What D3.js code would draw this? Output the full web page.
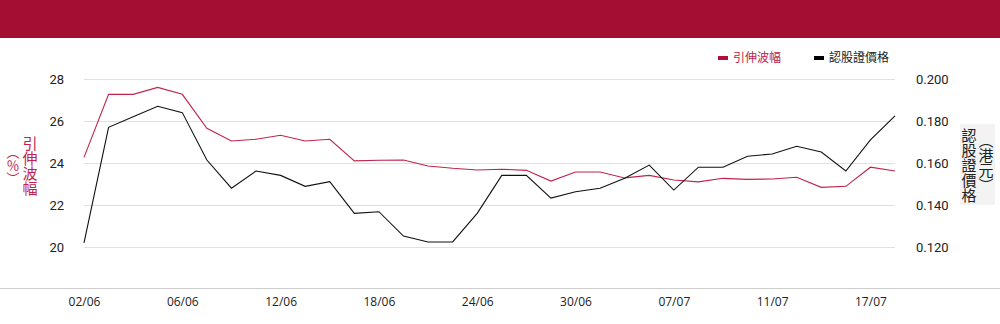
<!DOCTYPE html>
<html><head><meta charset="utf-8">
<script src="https://cdn.jsdelivr.net/npm/d3@7"></script>
<style>
html,body{margin:0;padding:0;background:#fff;}
svg{display:block;}
.vt{writing-mode:vertical-rl;}
</style></head>
<body>
<svg id="chart" width="1000" height="324"></svg>
<script>
const dates = ["02/06","03/06","04/06","05/06","06/06","09/06","10/06","11/06","12/06","13/06","16/06","17/06","18/06","19/06","20/06","23/06","24/06","25/06","26/06","27/06","30/06","02/07","03/07","04/07","07/07","08/07","09/07","10/07","11/07","14/07","15/07","16/07","17/07","18/07"];
const impliedVol = [24.27,27.27,27.27,27.6,27.27,25.65,25.05,25.13,25.32,25.05,25.13,24.1,24.13,24.14,23.86,23.75,23.67,23.7,23.65,23.14,23.57,23.57,23.29,23.41,23.19,23.1,23.27,23.22,23.24,23.32,22.84,22.89,23.8,23.62];
const warrantPrice = [0.122,0.177,0.182,0.187,0.184,0.1614,0.148,0.1562,0.1541,0.1489,0.1511,0.136,0.1368,0.1252,0.1224,0.1224,0.136,0.1541,0.1541,0.1433,0.1463,0.148,0.1527,0.159,0.1471,0.158,0.158,0.1632,0.1643,0.168,0.1652,0.1562,0.171,0.1824];
const leftTicks = [20,22,24,26,28];
const rightTicks = [0.12,0.14,0.16,0.18,0.2];
const xTickLabels = ["02/06","06/06","12/06","18/06","24/06","30/06","07/07","11/07","17/07"];
const seriesNames = ["引伸波幅","認股證價格"];
const leftTitle = "引伸波幅";
const leftUnit = "（％）";
const rightTitle = "認股證價格";
const rightUnit = "（港元）";

const RED = "#c0234b", BLACK = "#111";
const svg = d3.select("#chart");

// header bar
svg.append("rect").attr("x",0).attr("y",0).attr("width",1000).attr("height",38).attr("fill","#a50e33");
// bottom border
svg.append("line").attr("x1",0).attr("x2",1000).attr("y1",288.5).attr("y2",288.5).attr("stroke","#cfcfcf");

const x = d3.scalePoint().domain(dates).range([84,895]);
const yL = d3.scaleLinear().domain([20,28]).range([247,79]);
const yR = d3.scaleLinear().domain([0.12,0.2]).range([247,79]);

// gridlines
svg.append("g").selectAll("line").data(leftTicks).join("line")
  .attr("x1",84).attr("x2",895)
  .attr("y1",d=>Math.round(yL(d))+0.5).attr("y2",d=>Math.round(yL(d))+0.5)
  .attr("stroke","#e0e0e0");

// left axis
const gL = svg.append("g").attr("transform","translate(64,0)")
  .call(d3.axisLeft(yL).tickValues(leftTicks).tickSize(0).tickPadding(0).tickFormat(d3.format("d")));
gL.select(".domain").remove();
gL.selectAll("text").attr("font-family","Roboto, 'Liberation Sans', Arial, sans-serif").attr("font-size",13).attr("fill","#222");

// right axis
const gR = svg.append("g").attr("transform","translate(916,0)")
  .call(d3.axisRight(yR).tickValues(rightTicks).tickSize(0).tickPadding(0).tickFormat(d3.format(".3f")));
gR.select(".domain").remove();
gR.selectAll("text").attr("font-family","Roboto, 'Liberation Sans', Arial, sans-serif").attr("font-size",13).attr("fill","#222");

// x axis
const gX = svg.append("g").attr("transform","translate(0,297)")
  .call(d3.axisBottom(x).tickValues(xTickLabels).tickSize(0).tickPadding(0));
gX.select(".domain").remove();
gX.selectAll("text").attr("font-family","'Open Sans', 'DejaVu Sans', sans-serif").attr("font-size",12).attr("fill","#222").attr("dy","0.71em");

// lines
const lineL = d3.line().x((d,i)=>x(dates[i])).y(d=>yL(d));
const lineR = d3.line().x((d,i)=>x(dates[i])).y(d=>yR(d));
svg.append("path").datum(impliedVol).attr("d",lineL).attr("fill","none").attr("stroke",RED).attr("stroke-width",1.1);
svg.append("path").datum(warrantPrice).attr("d",lineR).attr("fill","none").attr("stroke",BLACK).attr("stroke-width",1.1);

// legend
const legend = [{name:seriesNames[0],color:"#b0103a",text:"#c0234b",x:718},{name:seriesNames[1],color:"#000",text:"#222",x:814}];
const lg = svg.append("g").selectAll("g").data(legend).join("g").attr("transform",d=>`translate(${d.x},0)`);
lg.append("rect").attr("x",0).attr("y",56).attr("width",10).attr("height",4).attr("fill",d=>d.color);
lg.append("text").attr("x",15).attr("y",58).attr("dy","0.35em").attr("font-size",12)
  .attr("font-family","'Noto Sans CJK TC', sans-serif").attr("fill",d=>d.text).text(d=>d.name);

const cjk = "'Noto Sans CJK TC', sans-serif";
function vtext(txt, cx, cy, color, size){
  svg.append("text").attr("class","vt").attr("x",cx).attr("y",cy)
    .attr("text-anchor","middle").attr("font-family",cjk).attr("font-size",size)
    .attr("fill",color).text(txt);
}
// left title
vtext(leftTitle, 30, 166, RED, 15);
vtext(leftUnit, 13, 165, RED, 13);
// right title
svg.append("rect").attr("x",960).attr("y",124).attr("width",35).attr("height",81).attr("fill","#f3f3f3");
vtext(rightTitle, 969, 165, "#222", 15);
vtext(rightUnit, 986, 163, "#222", 15);
</script>
</body></html>
